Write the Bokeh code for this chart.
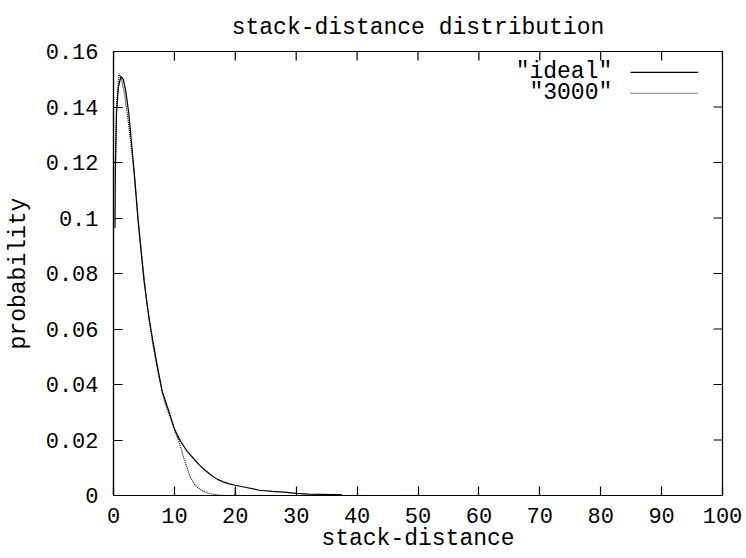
from bokeh.plotting import figure
from bokeh.models import Range1d, FixedTicker, CustomJSTickFormatter
from bokeh.core.properties import value
from bokeh.embed import file_html
from bokeh.resources import INLINE

# ---------------- data ----------------
title_text = "stack-distance distribution"
x_label = "stack-distance"
y_label = "probability"
series_names = ['"ideal"', '"3000"']

x_ticks = [0, 10, 20, 30, 40, 50, 60, 70, 80, 90, 100]
y_ticks = [0, 0.02, 0.04, 0.06, 0.08, 0.10, 0.12, 0.14, 0.16]

ideal_x = [0.25, 0.3, 0.5, 0.8, 1.2, 1.6, 2.0, 2.5, 3.0, 3.5, 4.0, 4.5, 5.0, 5.5, 6.0,
           7.0, 8.0, 9.0, 10.0, 11.0, 12.0, 13.0, 14.0, 15.0, 16.0, 17.0, 18.0, 19.0,
           20.0, 22.0, 24.0, 26.0, 28.0, 30.0, 32.0, 34.0, 36.0, 37.5]
ideal_y = [0.0965, 0.117, 0.138, 0.147, 0.151, 0.150, 0.146, 0.138, 0.126, 0.114,
           0.0998, 0.0887, 0.0776, 0.069, 0.0617, 0.049, 0.0375, 0.031, 0.024, 0.0196,
           0.0162, 0.0137, 0.0112, 0.0092, 0.0074, 0.0059, 0.0049, 0.0042, 0.0037,
           0.0028, 0.0019, 0.0015, 0.0012, 0.0008, 0.0005, 0.0004, 0.0003, 0.0003]

c3000_x = [0.3, 0.5, 0.9, 1.3, 1.8, 2.3, 2.8, 3.3, 3.8, 4.3, 4.8, 5.3, 5.8, 6.5, 7.5,
           8.5, 9.5, 10.2, 10.7, 11.5, 12.6, 13.5, 14.5, 15.5, 16.5, 17.5, 18.5, 19.9, 20.0]
c3000_y = [0.118, 0.140, 0.152, 0.150, 0.145, 0.137, 0.128, 0.118, 0.106, 0.094, 0.083,
           0.073, 0.064, 0.054, 0.042, 0.033, 0.027, 0.0225, 0.0198, 0.0138, 0.0066,
           0.0035, 0.0018, 0.0009, 0.0004, 0.0001, 0.0, 0.0, 0.003]

# ---------------- style ----------------
FONT = "Liberation Mono"
FS = "23px"
TICK_FS = "22px"
INK = "black"
LW = 1.2
TICK = 9

X0, X1 = 0, 100
Y0, Y1 = 0, 0.16
FRAME_W, FRAME_H = 609, 444

p = figure(width=746, height=558, output_backend="svg", toolbar_location=None,
           x_range=Range1d(X0, X1), y_range=Range1d(Y0, Y1),
           frame_width=FRAME_W, frame_height=FRAME_H,
           min_border_left=113, min_border_right=24, min_border_top=51,
           min_border_bottom=63, background_fill_color="white",
           border_fill_color="white")
p.grid.visible = False
p.outline_line_color = INK
p.outline_line_width = LW

p.title.text = title_text
p.title.text_font = FONT
p.title.text_font_size = FS
p.title.text_font_style = "normal"
p.title.text_color = INK
p.title.align = "center"
p.title.standoff = 21

for ax, ticks in ((p.xaxis[0], x_ticks), (p.yaxis[0], y_ticks)):
    ax.ticker = FixedTicker(ticks=ticks)
    ax.axis_line_color = INK
    ax.axis_line_width = LW
    ax.major_tick_in = TICK
    ax.major_tick_out = 0
    ax.major_tick_line_color = INK
    ax.major_tick_line_width = LW
    ax.minor_tick_line_color = None
    ax.major_label_text_font = FONT
    ax.major_label_text_font_size = TICK_FS
    ax.major_label_text_color = INK
    ax.axis_label_text_font = FONT
    ax.axis_label_text_font_size = FS
    ax.axis_label_text_font_style = "normal"
    ax.axis_label_text_color = INK

p.yaxis[0].formatter = CustomJSTickFormatter(code="return String(parseFloat(tick.toFixed(4)));")
p.yaxis[0].major_label_standoff = 15
p.yaxis[0].axis_label = y_label
p.yaxis[0].axis_label_standoff = 11

p.xaxis[0].major_label_standoff = 12
p.xaxis[0].axis_label = x_label
p.xaxis[0].axis_label_standoff = 0

# mirrored inward ticks on the top and right edges (gnuplot style)
dy = TICK * (Y1 - Y0) / FRAME_H
dx = TICK * (X1 - X0) / FRAME_W
p.segment(x0=x_ticks, y0=[Y1] * len(x_ticks), x1=x_ticks, y1=[Y1 - dy] * len(x_ticks),
          line_color=INK, line_width=LW)
p.segment(x0=[X1] * len(y_ticks), y0=y_ticks, x1=[X1 - dx] * len(y_ticks), y1=y_ticks,
          line_color=INK, line_width=LW)

# curves
p.line(ideal_x, ideal_y, line_color=INK, line_width=LW)
p.line(c3000_x, c3000_y, line_color=INK, line_width=LW, line_dash="1 1")

# key (gnuplot style: label, then sample)
key_text_x = X0 + 0.819 * (X1 - X0)
key_line_x = [X0 + 0.849 * (X1 - X0), X0 + 0.96 * (X1 - X0)]
key_rows = [Y0 + 0.953 * (Y1 - Y0), Y0 + 0.906 * (Y1 - Y0)]
dashes = ["solid", "1 1"]
for name, ky, dash in zip(series_names, key_rows, dashes):
    p.text(x=[key_text_x], y=[ky], text=[name], text_font=value(FONT),
           text_font_size=value(FS), text_align="right", text_baseline="middle",
           text_color=INK)
    p.line(key_line_x, [ky, ky], line_color=INK, line_width=LW, line_dash=dash)

open("out.html", "w").write(file_html(p, INLINE))
